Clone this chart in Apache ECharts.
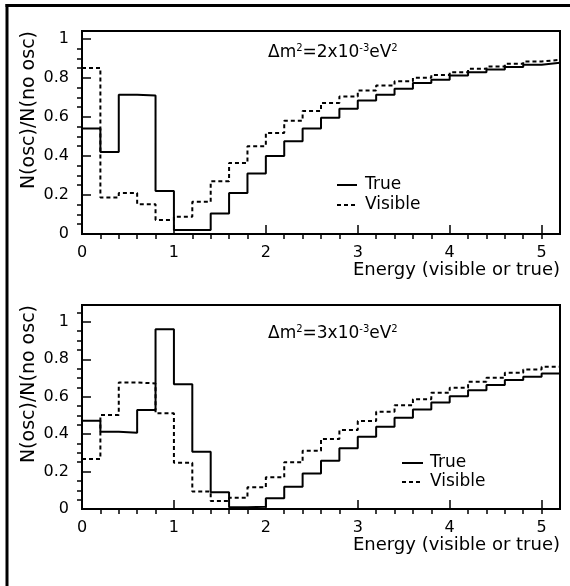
<!DOCTYPE html>
<html><head><meta charset="utf-8">
<script src="https://cdn.jsdelivr.net/npm/echarts@6/dist/echarts.min.js"></script>
<style>html,body{margin:0;padding:0;background:#fff}#c{width:570px;height:586px}</style>
</head><body><div id="c"></div>
<script>
// ---- data ----
const binEdges = [0,0.2,0.4,0.6,0.8,1.0,1.2,1.4,1.6,1.8,2.0,2.2,2.4,2.6,2.8,3.0,3.2,3.4,3.6,3.8,4.0,4.2,4.4,4.6,4.8,5.0,5.2];
const trueDm2 = [0.54,0.42,0.713,0.71,0.22,0.02,0.02,0.105,0.21,0.31,0.40,0.475,0.54,0.596,0.642,0.684,0.713,0.744,0.773,0.79,0.812,0.829,0.843,0.855,0.867,0.877];
const visDm2  = [0.851,0.187,0.21,0.153,0.072,0.088,0.165,0.27,0.364,0.45,0.517,0.58,0.63,0.671,0.705,0.735,0.761,0.783,0.80,0.815,0.829,0.846,0.858,0.872,0.884,0.892];
const trueDm3 = [0.472,0.413,0.408,0.529,0.961,0.666,0.306,0.089,0.009,0.012,0.057,0.119,0.19,0.258,0.324,0.386,0.44,0.488,0.532,0.569,0.603,0.635,0.662,0.689,0.707,0.724];
const visDm3  = [0.267,0.502,0.676,0.671,0.511,0.247,0.093,0.043,0.06,0.116,0.169,0.25,0.311,0.374,0.422,0.47,0.52,0.555,0.587,0.621,0.648,0.68,0.701,0.728,0.746,0.76];
const xMajorTicks = [0,1,2,3,4,5];
const xMinorTicks = [0.2,0.4,0.6,0.8,1.2,1.4,1.6,1.8,2.2,2.4,2.6,2.8,3.2,3.4,3.6,3.8,4.2,4.4,4.6,4.8,5.0];
const yMajorTicks = [0,0.2,0.4,0.6,0.8,1];
const yMinorTicks = [0.05,0.1,0.15,0.25,0.3,0.35,0.45,0.5,0.55,0.65,0.7,0.75,0.85,0.9,0.95,1.05];
const panelMassExp = ['2','3'];
const yTop = [1.04, 1.09];
const xTitle = 'Energy (visible or true)';
const yTitle = 'N(osc)/N(no osc)';
const legendNames = ['True','Visible'];

// ---- chart ----
const FONT = '"DejaVu Sans", sans-serif';
const grids = [
  {left:82, top:31, width:478, height:203},
  {left:82, top:305, width:478, height:204}
];
function stepData(vals){
  const d = vals.map((v,i)=>[binEdges[i], v]);
  d.push([binEdges[binEdges.length-1], vals[vals.length-1]]);
  return d;
}
const xAxes = [], yAxes = [], series = [];
grids.forEach((g,gi)=>{
  xAxes.push({type:'value', gridIndex:gi, min:0, max:5.2,
    axisLine:{show:false}, splitLine:{show:false},
    axisTick:{inside:true, length:9, customValues:xMajorTicks, lineStyle:{color:'#000', width:1.5}},
    axisLabel:{customValues:xMajorTicks, margin:11, color:'#000', fontFamily:FONT, fontSize:16}
  });
  xAxes.push({type:'value', gridIndex:gi, min:0, max:5.2,
    axisLine:{show:false}, splitLine:{show:false},
    axisTick:{inside:true, length:5, customValues:xMinorTicks, lineStyle:{color:'#000', width:1.5}},
    axisLabel:{show:false}
  });
  yAxes.push({type:'value', gridIndex:gi, min:0, max:yTop[gi],
    axisLine:{show:false}, splitLine:{show:false},
    axisTick:{inside:true, length:9, customValues:yMajorTicks, lineStyle:{color:'#000', width:1.5}},
    axisLabel:{customValues:yMajorTicks, margin:13, color:'#000', fontFamily:FONT, fontSize:16}
  });
  yAxes.push({type:'value', gridIndex:gi, min:0, max:yTop[gi],
    axisLine:{show:false}, splitLine:{show:false},
    axisTick:{inside:true, length:5, customValues:yMinorTicks, lineStyle:{color:'#000', width:1.5}},
    axisLabel:{show:false}
  });
});
const sets = [[trueDm2, visDm2],[trueDm3, visDm3]];
sets.forEach((pair,gi)=>{
  pair.forEach((vals,k)=>{
    series.push({type:'line', name:legendNames[k], step:'end', xAxisIndex:gi*2, yAxisIndex:gi*2,
      data:stepData(vals), showSymbol:false, symbol:'none', silent:true, z:3,
      lineStyle:{color:'#000', width:2, type: k===0 ? 'solid' : [4,3]}});
  });
});

const graphic = [
  {type:'line', shape:{x1:7,y1:4,x2:7,y2:586}, style:{stroke:'#000', lineWidth:3}},
  {type:'line', shape:{x1:5.5,y1:5.5,x2:570,y2:5.5}, style:{stroke:'#000', lineWidth:3}}
];
const noteY = [53, 334];
const legY = [[185,205],[463,482]];
const legX = [[337,357,365],[402,423,430]];
grids.forEach((g,gi)=>{
  graphic.push({type:'text', x:29, y:g.top, rotation:Math.PI/2,
    style:{text:yTitle, font:'19px '+FONT, fill:'#000', align:'right', verticalAlign:'middle'}});
  graphic.push({type:'text', x:g.left+g.width, y:g.top+g.height+36,
    style:{text:xTitle, font:'18px '+FONT, fill:'#000', align:'right', verticalAlign:'middle'}});
  graphic.push({type:'text', x:268, y:noteY[gi],
    style:{text:'{n|Δm}{s|2}{n|=' + panelMassExp[gi] + 'x10}{s|-3}{n|eV}{s|2}', align:'left', verticalAlign:'middle',
      rich:{n:{fontFamily:FONT, fontSize:17, lineHeight:20, fill:'#000', color:'#000'},
            s:{fontFamily:FONT, fontSize:10, lineHeight:10, verticalAlign:'top', fill:'#000', color:'#000'}}}});
  legendNames.forEach((nm,k)=>{
    graphic.push({type:'line', shape:{x1:legX[gi][0], y1:legY[gi][k], x2:legX[gi][1], y2:legY[gi][k]},
      style:{stroke:'#000', lineWidth:2, lineDash: k===0 ? null : [4,3]}});
    graphic.push({type:'text', x:legX[gi][2], y:legY[gi][k],
      style:{text:nm, font:'17px '+FONT, fill:'#000', align:'left', verticalAlign:'middle'}});
  });
});

const chart = echarts.init(document.getElementById('c'), null, {renderer:'canvas'});
chart.setOption({
  animation:false,
  backgroundColor:'#fff',
  grid: grids.map(g=>Object.assign({show:true, borderColor:'#000', borderWidth:2, backgroundColor:'transparent'}, g)),
  xAxis: xAxes,
  yAxis: yAxes,
  series: series,
  graphic: graphic
});
</script>
</body></html>
